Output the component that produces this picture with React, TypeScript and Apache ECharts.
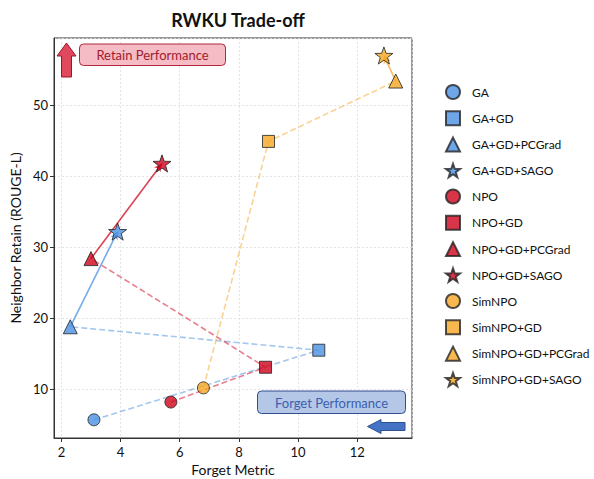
import React, { useEffect, useRef } from "react";
import * as echarts from "echarts";

const families = ["GA", "NPO", "SimNPO"];
const variants = ["", "+GD", "+GD+PCGrad", "+GD+SAGO"];
const familyColors = ["#4A90E2", "#D0021B", "#F5A623"];
const forgetGA = [3.1, 10.7, 2.3, 3.9];
const retainGA = [5.7, 15.5, 18.8, 32.2];
const forgetNPO = [5.7, 8.9, 3.0, 5.4];
const retainNPO = [8.2, 13.1, 28.4, 41.8];
const forgetSimNPO = [6.8, 9.0, 13.3, 12.9];
const retainSimNPO = [10.2, 44.9, 53.4, 57.0];
const xRange = [1.75, 13.85];
const yRange = [3.14, 59.46];

const forgetAll = [forgetGA, forgetNPO, forgetSimNPO];
const retainAll = [retainGA, retainNPO, retainSimNPO];

function starPath(): string {
  let d = "";
  for (let i = 0; i < 10; i++) {
    const r = i % 2 ? 0.4 : 1;
    const a = -Math.PI / 2 + (i * Math.PI) / 5;
    const x = 50 + 50 * r * Math.cos(a);
    const y = 50 + 50 * r * Math.sin(a);
    d += (i ? "L" : "M") + x.toFixed(2) + " " + y.toFixed(2);
  }
  return "path://" + d + "Z";
}

const symbols = ["circle", "rect", "triangle", starPath()];
const symbolSizes = [12, 12, 14, 18];

const FONT = "Lato, 'Open Sans', sans-serif";

export default function App() {
  const ref = useRef<HTMLDivElement>(null);
  useEffect(() => {
    if (!ref.current) return;
    const chart = echarts.init(ref.current, null, { renderer: "svg" });
    const series: any[] = [];
    const legendNames: string[] = [];
    families.forEach((fam, fi) => {
      const color = familyColors[fi];
      const fx = forgetAll[fi];
      const ry = retainAll[fi];
      series.push({
        type: "line",
        name: fam + "-path",
        data: [0, 1, 2].map((k) => [fx[k], ry[k]]),
        symbol: "none",
        lineStyle: { color, width: 1.6, type: [6, 3], opacity: 0.5 },
        z: 2,
        silent: true,
        markLine: {
          silent: true,
          symbol: ["none", "arrow"],
          symbolSize: [6, 8],
          label: { show: false },
          lineStyle: { color, width: 1.6, type: "solid", opacity: 0.75 },
          data: [[{ coord: [fx[2], ry[2]] }, { coord: [fx[3], ry[3]] }]],
        },
      });
      variants.forEach((v, vi) => {
        const name = fam + v;
        legendNames.push(name);
        series.push({
          type: "scatter",
          name,
          data: [[fx[vi], ry[vi]]],
          symbol: symbols[vi],
          symbolSize: symbolSizes[vi],
          symbolKeepAspect: true,
          itemStyle: { color, borderColor: "#222", borderWidth: 1 },
          z: 5,
        });
      });
    });

    const labelFmt = (v: number) =>
      Math.abs(v - Math.round(v)) < 1e-6 ? String(Math.round(v)) : "";

    const option: any = {
      animation: false,
      backgroundColor: "#ffffff",
      textStyle: { fontFamily: FONT },
      title: {
        text: "RWKU Trade-off",
        left: 233,
        top: 6,
        textAlign: "center",
        textStyle: { fontFamily: FONT, fontSize: 18, fontWeight: "bold", color: "#111" },
      },
      grid: {
        left: 54,
        right: 182,
        top: 38,
        bottom: 41,
        outerBoundsMode: "none",
        containLabel: false,
        show: true,
        borderColor: "#333",
        borderWidth: 1,
        backgroundColor: "transparent",
      },
      legend: {
        data: legendNames,
        orient: "vertical",
        left: 440,
        top: 79,
        itemWidth: 14,
        itemHeight: 14,
        itemGap: 10.3,
        textStyle: {
          fontFamily: FONT,
          fontSize: 12,
          lineHeight: 14,
          color: "#111",
          padding: [0, 0, 0, 7],
        },
        selectedMode: false,
      },
      xAxis: {
        type: "value",
        min: xRange[0],
        max: xRange[1],
        splitNumber: 6,
        name: "Forget Metric",
        nameLocation: "middle",
        nameGap: 24,
        nameTextStyle: { fontFamily: FONT, fontSize: 14, color: "#111" },
        axisLine: { show: true, lineStyle: { color: "#333", width: 1 } },
        axisTick: { show: true, length: 4, lineStyle: { color: "#333" } },
        axisLabel: {
          fontFamily: FONT,
          fontSize: 13,
          color: "#111",
          margin: 7,
          showMinLabel: false,
          showMaxLabel: false,
          formatter: labelFmt,
        },
        splitLine: { show: true, lineStyle: { color: "#ddd", type: [2, 2], width: 0.8 } },
      },
      yAxis: {
        type: "value",
        min: yRange[0],
        max: yRange[1],
        splitNumber: 6,
        name: "Neighbor Retain (ROUGE-L)",
        nameLocation: "middle",
        nameGap: 23,
        nameTextStyle: { fontFamily: FONT, fontSize: 14, color: "#111" },
        axisLine: { show: true, lineStyle: { color: "#333", width: 1 } },
        axisTick: { show: true, length: 4, lineStyle: { color: "#333" } },
        axisLabel: {
          fontFamily: FONT,
          fontSize: 13,
          color: "#111",
          margin: 6,
          showMinLabel: false,
          showMaxLabel: false,
          formatter: labelFmt,
        },
        splitLine: { show: true, lineStyle: { color: "#ddd", type: [2, 2], width: 0.8 } },
      },
      graphic: [
        {
          type: "polygon",
          z: 10,
          shape: {
            points: [
              [66.5, 43], [76, 56], [71.5, 56], [71.5, 77], [61.5, 77], [61.5, 56], [57, 56],
            ],
          },
          style: { fill: "#E0485E", stroke: "#9E1529", lineWidth: 1 },
        },
        {
          type: "rect",
          z: 10,
          shape: { x: 79.5, y: 44, width: 146, height: 21.5, r: 4 },
          style: { fill: "#F5BCC5", stroke: "#B0283C", lineWidth: 1 },
        },
        {
          type: "text",
          z: 11,
          x: 152.5,
          y: 55,
          style: {
            text: "Retain Performance",
            fill: "#9E1B2F",
            font: "13px " + FONT,
            align: "center",
            verticalAlign: "middle",
          },
        },
        {
          type: "rect",
          z: 10,
          shape: { x: 257.5, y: 391, width: 148, height: 22.5, r: 4 },
          style: { fill: "#B4C7E7", stroke: "#2F4F8F", lineWidth: 1 },
        },
        {
          type: "text",
          z: 11,
          x: 331.5,
          y: 402.5,
          style: {
            text: "Forget Performance",
            fill: "#3A5FAE",
            font: "13px " + FONT,
            align: "center",
            verticalAlign: "middle",
          },
        },
        {
          type: "polygon",
          z: 10,
          shape: {
            points: [
              [367.5, 426.5], [381, 419.5], [381, 422.5], [405, 422.5], [405, 430.5], [381, 430.5], [381, 433.5],
            ],
          },
          style: { fill: "#4472C4", stroke: "#2F528F", lineWidth: 1 },
        },
      ],
      series,
    };
    chart.setOption(option);
    return () => chart.dispose();
  }, []);
  return (
    <div
      ref={ref}
      style={{ position: "fixed", left: 0, top: 0, width: 594, height: 479, background: "#fff" }}
    />
  );
}
